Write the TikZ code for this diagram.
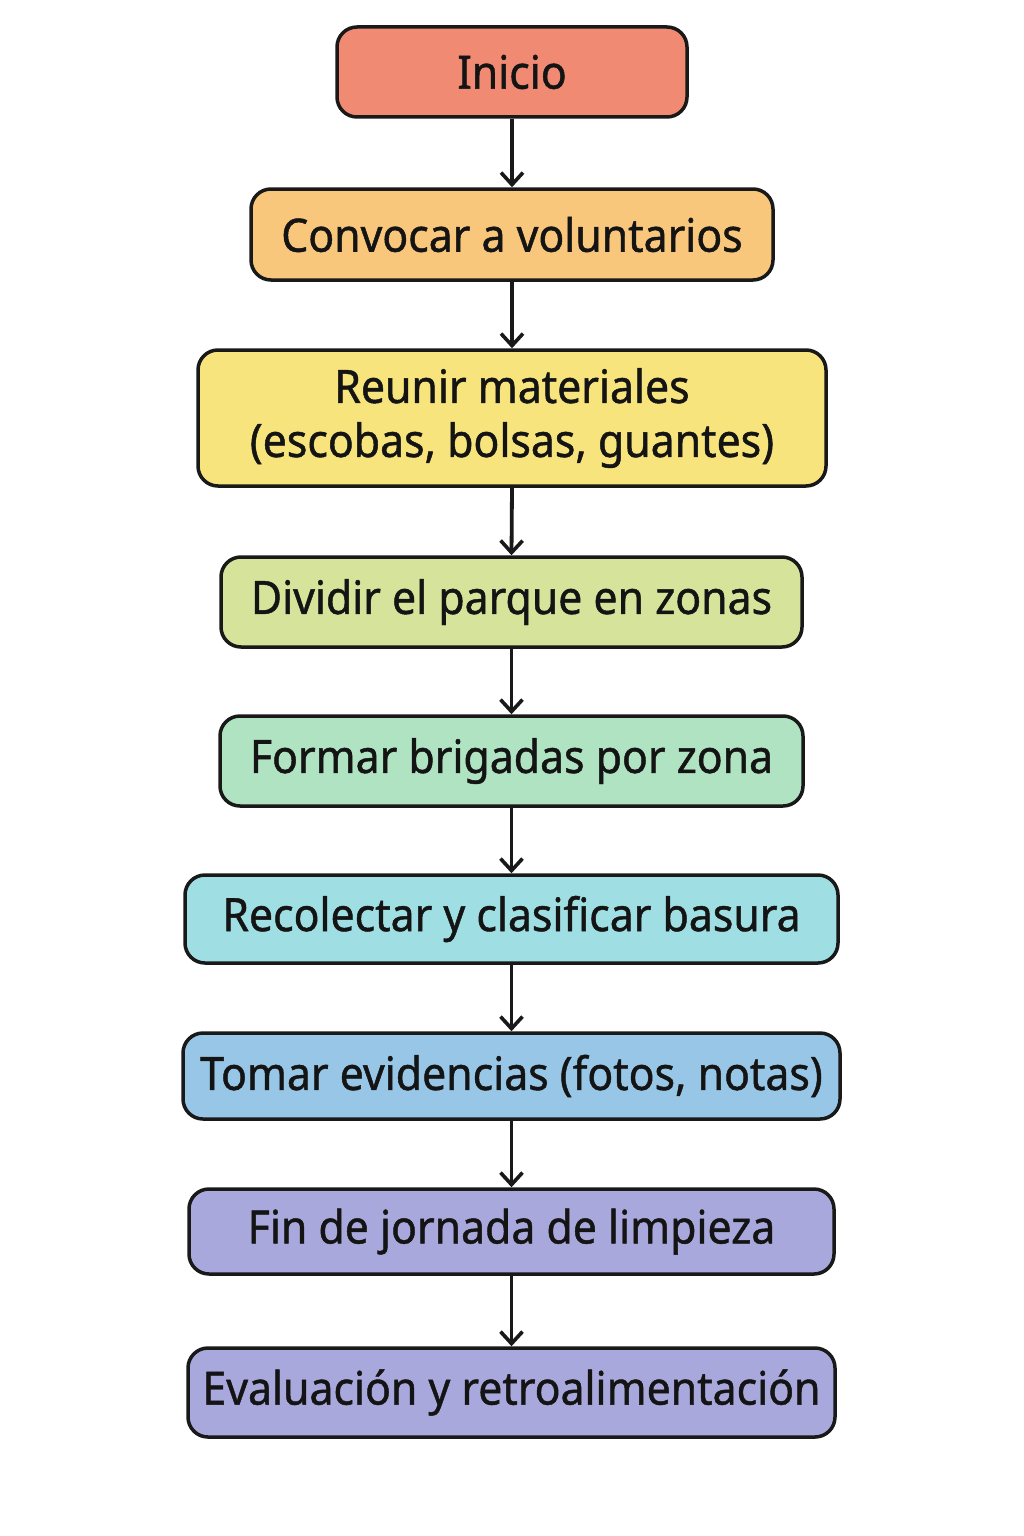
\documentclass[tikz,border=0pt]{standalone}
\usepackage{fontspec}
\setmainfont{Noto Sans}[FakeStretch=0.93,FakeBold=1]
\usetikzlibrary{arrows.meta}
\definecolor{cInicio}{HTML}{F08A72}
\definecolor{cConv}{HTML}{F9C77C}
\definecolor{cReun}{HTML}{F8E47C}
\definecolor{cDiv}{HTML}{D6E39A}
\definecolor{cForm}{HTML}{AFE3C1}
\definecolor{cRec}{HTML}{9FDFE3}
\definecolor{cTom}{HTML}{97C6E7}
\definecolor{cFin}{HTML}{A9A8DC}
\tikzset{
  stepbox/.style={draw=black!90, line width=3.5pt, rounded corners=20pt,
    align=center, inner sep=0pt, text=black!92,
    font=\fontsize{46}{54}\selectfont},
  conn/.style={line width=3.8pt, draw=black!90, -{Straight Barb[length=12pt,width=22pt,line width=3.6pt]}}
}
\begin{document}
\begin{tikzpicture}[x=1pt,y=-1pt]
\useasboundingbox[fill=white] (0,0) rectangle (1024,1536);
\node[stepbox, fill=cInicio, minimum width=350pt, minimum height=90pt] (n1) at (512,72) {Inicio};
\node[stepbox, fill=cConv, minimum width=522pt, minimum height=91pt] (n2) at (512,234.5) {Convocar a voluntarios};
\node[stepbox, fill=cReun, minimum width=628pt, minimum height=136pt] (n3) at (512,418) {Reunir materiales\\(escobas, bolsas, guantes)};
\node[stepbox, fill=cDiv, minimum width=581pt, minimum height=90pt] (n4) at (511.5,602) {Dividir el parque en zonas};
\node[stepbox, fill=cForm, minimum width=583pt, minimum height=90pt] (n5) at (511.5,761) {Formar brigadas por zona};
\node[stepbox, fill=cRec, minimum width=653pt, minimum height=88pt] (n6) at (511.5,919) {Recolectar y clasificar basura};
\node[stepbox, fill=cTom, minimum width=657pt, minimum height=86pt] (n7) at (511.5,1076) {Tomar evidencias (fotos, notas)};
\node[stepbox, fill=cFin, minimum width=645pt, minimum height=85pt] (n8) at (511.5,1231.5) {Fin de jornada de limpieza};
\node[stepbox, fill=cFin, minimum width=647pt, minimum height=89pt] (n9) at (511.5,1392.5) {Evaluación y retroalimentación};
\foreach \a/\b in {n1/n2,n2/n3,n3/n4,n4/n5,n5/n6,n6/n7,n7/n8,n8/n9}
  \draw[conn] (\a.south) -- (\b.north);
\end{tikzpicture}
\end{document}
